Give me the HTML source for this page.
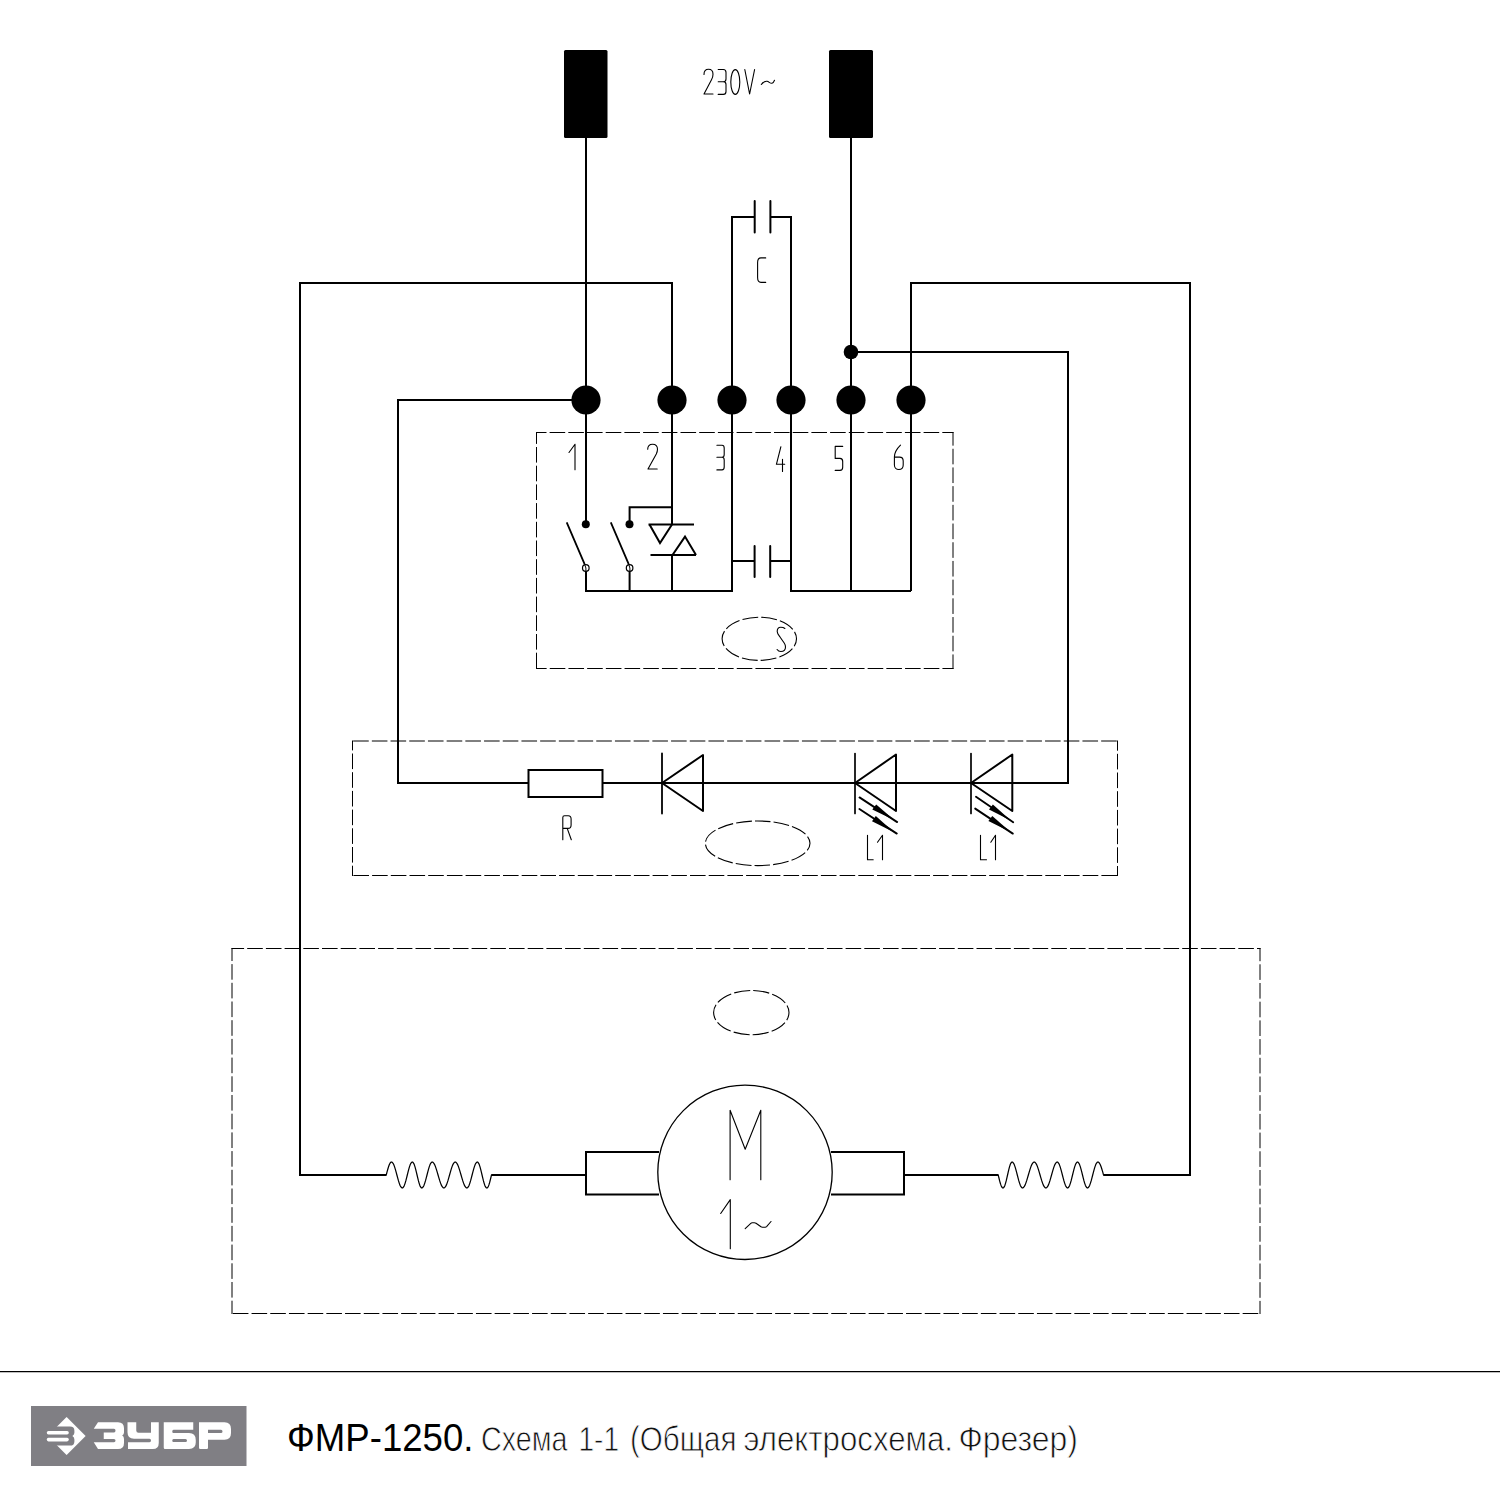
<!DOCTYPE html>
<html><head><meta charset="utf-8">
<style>
html,body{margin:0;padding:0;background:#fff;}
body{width:1500px;height:1500px;overflow:hidden;position:relative;}
svg{position:absolute;left:0;top:0;}
</style></head>
<body>
<svg width="1500" height="1500" viewBox="0 0 1500 1500">
<!-- WIRES -->
<g fill="none" stroke="#000" stroke-width="2" stroke-linecap="butt" stroke-linejoin="miter">
  <path d="M586 138V524"/>
  <path d="M851 138V591"/>
  <path d="M672 524V283H300V1175H386.6"/>
  <path d="M911 591V283H1190V1175H1103.2"/>
  <path d="M851 352H1068V783H1012"/>
  <path d="M586 400H398V783H528"/>
  <path d="M603 783H1012"/>
  <path d="M754.7 217H732V591H586V571.3"/>
  <path d="M770.4 217H791V591H911"/>
  <path d="M732 561H754.6M770.2 561H791"/>
  <path d="M629.6 524V507.2H672"/>
  <path d="M629.6 571.3V591"/>
  <path d="M672 555V591"/>
  <path d="M491.2 1175H586"/>
  <path d="M904 1175H998.5"/>
</g>
<!-- terminals -->
<rect x="564" y="50" width="43.5" height="88" rx="1.5" fill="#000"/>
<rect x="829" y="50" width="44" height="88" rx="1.5" fill="#000"/>
<!-- dots -->
<g fill="#000">
  <circle cx="586" cy="400" r="14.6"/>
  <circle cx="672" cy="400" r="14.6"/>
  <circle cx="732" cy="400" r="14.6"/>
  <circle cx="791" cy="400" r="14.6"/>
  <circle cx="851" cy="400" r="14.6"/>
  <circle cx="911" cy="400" r="14.6"/>
  <circle cx="851" cy="352" r="7.3"/>
  <circle cx="585.8" cy="524.2" r="4"/>
  <circle cx="629.5" cy="524.2" r="4"/>
</g>
<!-- capacitor plates -->
<g stroke="#000" stroke-width="2" fill="none" stroke-linecap="round">
  <path d="M754.7 201V232.5M770.4 201V232.5"/>
  <path d="M754.6 546V577M770.2 546V577"/>
</g>
<!-- switches -->
<g stroke="#000" fill="none">
  <path d="M566.7 522.3L584.6 564.2M610.8 522.3L628.7 564.2" stroke-width="1.8"/>
  <path d="M584.6 564.2L585.9 568V571.4M628.7 564.2L629.9 568V571.4" stroke-width="1"/>
  <circle cx="585.8" cy="568" r="3.3" stroke-width="1.2"/>
  <circle cx="629.6" cy="568" r="3.3" stroke-width="1.2"/>
</g>
<!-- triac -->
<g stroke="#000" stroke-width="2" fill="none" stroke-linejoin="miter">
  <path d="M648.5 524.5H694"/>
  <path d="M649.5 524.5L660 543L672 524.5"/>
  <path d="M650.5 555H696"/>
  <path d="M672.5 555L685 536.6L696 555"/>
</g>
<!-- resistor -->
<rect x="528.5" y="770" width="74" height="27" fill="none" stroke="#000" stroke-width="2"/>
<!-- diodes / LEDs -->
<g stroke="#000" fill="none" stroke-width="2" stroke-linejoin="round" stroke-linecap="round">
  <path d="M662 753.5V813.5" stroke-width="1.8"/>
  <path d="M703 755V811L662 783Z"/>
  <path d="M855 753.5V813.5" stroke-width="1.7"/>
  <path d="M896 754.5V811L855 783Z"/>
  <path d="M971 753.5V813.5" stroke-width="1.7"/>
  <path d="M1012.3 754.5V811L971 783Z"/>
</g>
<!-- LED arrows -->
<g id="arrows">
  <g stroke="#000" stroke-width="1.9" stroke-linecap="round" fill="none">
    <path d="M859.5 797.4L897.2 822.1M859.4 809L896.8 833.6"/>
    <path d="M976 796.8L1013.2 822.2M975.2 808.6L1012.8 833.6"/>
  </g>
  <g fill="#000">
    <path d="M872.3 809.5L876.2 804.4L894.5 820.3Z"/>
    <path d="M872 821.2L875.8 816.1L894 832.2Z"/>
    <path d="M989 809.5L992.9 804.4L1010.8 820.4Z"/>
    <path d="M988.4 821.1L992.3 816L1010.5 832.1Z"/>
  </g>
</g>
<!-- coils -->
<g stroke="#000" stroke-width="1.25" fill="none" stroke-linejoin="round">
  <path d="M386.30 1174.80L386.67 1173.37L387.04 1171.95L387.41 1170.57L387.79 1169.25L388.16 1167.99L388.53 1166.82L388.90 1165.75L389.27 1164.79L389.64 1163.96L390.01 1163.27L390.39 1162.72L390.76 1162.32L391.13 1162.08L391.50 1162.00L392.27 1162.33L393.04 1163.29L393.81 1164.84L394.59 1166.89L395.36 1169.36L396.13 1172.11L396.90 1175.00L397.67 1177.89L398.44 1180.64L399.21 1183.11L399.99 1185.16L400.76 1186.71L401.53 1187.67L402.30 1188.00L403.01 1187.67L403.73 1186.71L404.44 1185.16L405.16 1183.11L405.87 1180.64L406.59 1177.89L407.30 1175.00L408.01 1172.11L408.73 1169.36L409.44 1166.89L410.16 1164.84L410.87 1163.29L411.59 1162.33L412.30 1162.00L412.98 1162.33L413.66 1163.29L414.34 1164.84L415.01 1166.89L415.69 1169.36L416.37 1172.11L417.05 1175.00L417.73 1177.89L418.41 1180.64L419.09 1183.11L419.76 1185.16L420.44 1186.71L421.12 1187.67L421.80 1188.00L422.54 1187.67L423.29 1186.71L424.03 1185.16L424.77 1183.11L425.51 1180.64L426.26 1177.89L427.00 1175.00L427.74 1172.11L428.49 1169.36L429.23 1166.89L429.97 1164.84L430.71 1163.29L431.46 1162.33L432.20 1162.00L433.04 1162.33L433.87 1163.29L434.71 1164.84L435.54 1166.89L436.38 1169.36L437.21 1172.11L438.05 1175.00L438.89 1177.89L439.72 1180.64L440.56 1183.11L441.39 1185.16L442.23 1186.71L443.06 1187.67L443.90 1188.00L444.71 1187.67L445.51 1186.71L446.32 1185.16L447.13 1183.11L447.94 1180.64L448.74 1177.89L449.55 1175.00L450.36 1172.11L451.16 1169.36L451.97 1166.89L452.78 1164.84L453.59 1163.29L454.39 1162.33L455.20 1162.00L456.04 1162.33L456.87 1163.29L457.71 1164.84L458.54 1166.89L459.38 1169.36L460.21 1172.11L461.05 1175.00L461.89 1177.89L462.72 1180.64L463.56 1183.11L464.39 1185.16L465.23 1186.71L466.06 1187.67L466.90 1188.00L467.64 1187.67L468.39 1186.71L469.13 1185.16L469.87 1183.11L470.61 1180.64L471.36 1177.89L472.10 1175.00L472.84 1172.11L473.59 1169.36L474.33 1166.89L475.07 1164.84L475.81 1163.29L476.56 1162.33L477.30 1162.00L477.98 1162.33L478.66 1163.29L479.34 1164.84L480.01 1166.89L480.69 1169.36L481.37 1172.11L482.05 1175.00L482.73 1177.89L483.41 1180.64L484.09 1183.11L484.76 1185.16L485.44 1186.71L486.12 1187.67L486.80 1188.00L487.14 1187.92L487.47 1187.67L487.81 1187.26L488.14 1186.69L488.48 1185.98L488.81 1185.12L489.15 1184.13L489.49 1183.03L489.82 1181.82L490.16 1180.53L490.49 1179.16L490.83 1177.74L491.16 1176.28L491.50 1174.80"/>
  <path d="M998.20 1174.80L998.54 1176.28L998.89 1177.74L999.23 1179.16L999.57 1180.53L999.91 1181.82L1000.26 1183.03L1000.60 1184.13L1000.94 1185.12L1001.29 1185.98L1001.63 1186.69L1001.97 1187.26L1002.31 1187.67L1002.66 1187.92L1003.00 1188.00L1003.65 1187.67L1004.30 1186.71L1004.95 1185.16L1005.60 1183.11L1006.25 1180.64L1006.90 1177.89L1007.55 1175.00L1008.20 1172.11L1008.85 1169.36L1009.50 1166.89L1010.15 1164.84L1010.80 1163.29L1011.45 1162.33L1012.10 1162.00L1012.84 1162.33L1013.59 1163.29L1014.33 1164.84L1015.07 1166.89L1015.81 1169.36L1016.56 1172.11L1017.30 1175.00L1018.04 1177.89L1018.79 1180.64L1019.53 1183.11L1020.27 1185.16L1021.01 1186.71L1021.76 1187.67L1022.50 1188.00L1023.34 1187.67L1024.17 1186.71L1025.01 1185.16L1025.84 1183.11L1026.68 1180.64L1027.51 1177.89L1028.35 1175.00L1029.19 1172.11L1030.02 1169.36L1030.86 1166.89L1031.69 1164.84L1032.53 1163.29L1033.36 1162.33L1034.20 1162.00L1035.04 1162.33L1035.87 1163.29L1036.71 1164.84L1037.54 1166.89L1038.38 1169.36L1039.21 1172.11L1040.05 1175.00L1040.89 1177.89L1041.72 1180.64L1042.56 1183.11L1043.39 1185.16L1044.23 1186.71L1045.06 1187.67L1045.90 1188.00L1046.71 1187.67L1047.51 1186.71L1048.32 1185.16L1049.13 1183.11L1049.94 1180.64L1050.74 1177.89L1051.55 1175.00L1052.36 1172.11L1053.16 1169.36L1053.97 1166.89L1054.78 1164.84L1055.59 1163.29L1056.39 1162.33L1057.20 1162.00L1057.94 1162.33L1058.69 1163.29L1059.43 1164.84L1060.17 1166.89L1060.91 1169.36L1061.66 1172.11L1062.40 1175.00L1063.14 1177.89L1063.89 1180.64L1064.63 1183.11L1065.37 1185.16L1066.11 1186.71L1066.86 1187.67L1067.60 1188.00L1068.31 1187.67L1069.01 1186.71L1069.72 1185.16L1070.43 1183.11L1071.14 1180.64L1071.84 1177.89L1072.55 1175.00L1073.26 1172.11L1073.96 1169.36L1074.67 1166.89L1075.38 1164.84L1076.09 1163.29L1076.79 1162.33L1077.50 1162.00L1078.21 1162.33L1078.93 1163.29L1079.64 1164.84L1080.36 1166.89L1081.07 1169.36L1081.79 1172.11L1082.50 1175.00L1083.21 1177.89L1083.93 1180.64L1084.64 1183.11L1085.36 1185.16L1086.07 1186.71L1086.79 1187.67L1087.50 1188.00L1088.24 1187.67L1088.99 1186.71L1089.73 1185.16L1090.47 1183.11L1091.21 1180.64L1091.96 1177.89L1092.70 1175.00L1093.44 1172.11L1094.19 1169.36L1094.93 1166.89L1095.67 1164.84L1096.41 1163.29L1097.16 1162.33L1097.90 1162.00L1098.30 1162.08L1098.70 1162.32L1099.10 1162.72L1099.50 1163.27L1099.90 1163.96L1100.30 1164.79L1100.70 1165.75L1101.10 1166.82L1101.50 1167.99L1101.90 1169.25L1102.30 1170.57L1102.70 1171.95L1103.10 1173.37L1103.50 1174.80"/>
</g>
<!-- motor -->
<g stroke="#000" fill="none">
  <circle cx="745" cy="1172.3" r="87.2" stroke-width="1.3"/>
  <path d="M659 1152H586V1194.5H659" stroke-width="2"/>
  <path d="M831 1152H904V1194.5H831" stroke-width="2"/>
</g>
<!-- dashed boxes -->
<g fill="none" stroke="#000" stroke-width="1" stroke-dasharray="15.6 3.1">
  <path d="M536.0 432.5L953.5 432.5" stroke-dashoffset="5.10"/>
  <path d="M953 432.0L953 669.0" stroke-dashoffset="1.95"/>
  <path d="M536.0 668.5L953.5 668.5" stroke-dashoffset="4.95"/>
  <path d="M536.5 432.0L536.5 669.0" stroke-dashoffset="3.70"/>
  <path d="M352.0 741L1118.0 741" stroke-dashoffset="17.55"/>
  <path d="M1117.5 740.5L1117.5 876.0" stroke-dashoffset="5.40"/>
  <path d="M352.0 875.5L1118.0 875.5" stroke-dashoffset="17.30"/>
  <path d="M352.5 740.5L352.5 876.0" stroke-dashoffset="5.70"/>
  <path d="M231.5 948.5L1260.5 948.5" stroke-dashoffset="3.00"/>
  <path d="M1260 948.0L1260 1314.0" stroke-dashoffset="2.40"/>
  <path d="M231.5 1313.5L1260.5 1313.5" stroke-dashoffset="17.35"/>
  <path d="M232 948.0L232 1314.0" stroke-dashoffset="2.60"/>
</g>
<!-- dashed ellipses -->
<g fill="none" stroke="#000" stroke-width="1.1">
  <ellipse cx="759.3" cy="638.8" rx="37.2" ry="21.6" stroke-dasharray="15.699 3.1" stroke-dashoffset="7.850"/>
  <ellipse cx="757.7" cy="843.3" rx="52.3" ry="22.3" stroke-dasharray="15.664 3.1" stroke-dashoffset="7.832"/>
  <ellipse cx="751.3" cy="1012.6" rx="37.7" ry="22.1" stroke-dasharray="16.008 3.1" stroke-dashoffset="8.004"/>
</g>
<!-- technical labels -->
<g fill="none" stroke="#000" stroke-width="1.1" stroke-linecap="round" stroke-linejoin="round">
  <!-- 230V~ -->
  <path d="M704 74.5C704 71 706 69.3 708.5 69.3C711 69.3 713 71 713 74.3C713 76.5 712.4 78.3 711.5 79.8L704 94H713"/>
  <path d="M718.2 69.5H723.3Q726 69.5 726 72.5V79Q726 81.8 723.3 81.8H718.2M723.3 81.8Q726 81.8 726 84.5V91.4Q726 94.4 723.3 94.4H718.2"/>
  <ellipse cx="735.3" cy="82" rx="4.5" ry="12.4"/>
  <path d="M744.8 69.5L749.6 94L754.6 69.5"/>
  <path d="M761.3 84.5C763.3 82 765 81 767 81.3C769 81.6 770 83.6 772 83.3C773 83.1 773.8 82 774.5 80.3"/>
  <!-- C -->
  <path d="M765.7 257.9H761Q757.6 257.9 757.6 262.5V277.5Q757.6 282.4 761 282.4H765.7"/>
  <!-- 1..6 -->
  <path d="M569 452.5L575 444.3V469.8"/>
  <path d="M647.7 449.3C647.7 446 650 444.2 652.6 444.2C655.3 444.2 657.5 446 657.5 449.3C657.5 451 657 452.5 656.3 454L648 469H657.2"/>
  <path d="M716.9 445.2H722Q724.2 445.2 724.2 448V454.5Q724.2 457.3 722 457.3H716.9M722 457.3Q724.2 457.3 724.2 460V467Q724.2 469.9 722 469.9H716.9"/>
  <path d="M780.9 446.7L776.4 464.3H784.7M782.5 459.2V471.5"/>
  <path d="M842.7 446.4H835.2V458.4H840Q842.7 458.4 842.7 461.5V467.3Q842.7 470.4 840 470.4H835.2"/>
  <path d="M900.5 445.1C897 448.5 894.4 451.5 894.4 457V465C894.4 467.8 896.5 469.5 898.8 469.5C901.2 469.5 903.2 467.8 903.2 465V461C903.2 458.5 901.5 457.1 899.5 457.1H894.4"/>
  <!-- S -->
  <path d="M784.9 628.5C783.8 627.5 782.3 627.2 780.7 627.2C778.5 627.2 777.2 629 777.2 631.5C777.2 633.5 778.5 635 780 637L784.2 643C785.2 644.5 785.5 645.5 785.5 647C785.5 650 783.3 651.5 780.8 651.5C779.2 651.5 778 650.8 777.1 649.5"/>
  <!-- R -->
  <path d="M562.8 839.8V817.5Q562.8 815.7 564.5 815.7H568.3Q571.1 815.7 571.1 819V825Q571.1 828.4 568 828.4H562.8M567.3 828.6L571.3 839.8"/>
  <!-- L1 L1 -->
  <path d="M867.5 835.3V859.7H873.2M877.5 842.2L882.5 835.3V859.7"/>
  <path d="M980.5 835.3V859.7H986.5M990.8 842.2L995.5 835.3V859.7"/>
  <!-- motor M 1~ -->
  <path d="M730.1 1179.7V1110.3L745.2 1149.2L760.8 1110.3V1179.7"/>
  <path d="M720.7 1213.5L730.3 1199.6V1248.8"/>
  <path d="M745.2 1228.6L750.8 1223.3Q751.4 1222.8 752.2 1222.8H754.4Q755.2 1222.8 756 1223.3L761 1226.8Q761.6 1227.2 762.4 1227.2H765.2Q766 1227.2 766.6 1226.6L771 1221.5"/>
</g>
<!-- footer -->
<path d="M0 1371.6H1500" stroke="#000" stroke-width="1.3"/>
<rect x="31" y="1406" width="215.5" height="60" fill="#807f84"/>
<g fill="#fff">
  <path d="M66.6 1417L85.6 1436L66.6 1455L56.8 1445.2V1426.8Z"/>
  <path d="M56 1426.6H70Q74.4 1426.6 74.4 1430.8V1432.8Q74.4 1434.8 72.4 1436Q74.4 1437.2 74.4 1439.4V1441.4Q74.4 1445.6 70 1445.6H56Z" fill="#807f84"/>
  <path d="M48.4 1431H67.1Q68.8 1431 68.8 1432.7Q68.8 1434.4 67.1 1434.4H48.4Q46.8 1434.4 46.8 1432.7Q46.8 1431 48.4 1431Z"/>
  <path d="M48.4 1437.8H67.1Q68.8 1437.8 68.8 1439.6Q68.8 1441.4 67.1 1441.4H48.4Q46.8 1441.4 46.8 1439.6Q46.8 1437.8 48.4 1437.8Z"/>
  <path d="M98 1422.25H118Q124 1422.25 124 1428.25V1432.5Q124 1434.6 122.2 1435.6Q124 1436.6 124 1439V1443Q124 1449 118 1449H98L93.75 1442.25H114Q115.5 1442.25 115.5 1440.6Q115.5 1439 114 1439H103.75V1432.5H114Q115.5 1432.5 115.5 1430.6Q115.5 1428.75 114 1428.75H93.75Z"/>
  <path d="M127.5 1422.25H136.25V1430.5Q136.25 1432.75 138.5 1432.75H151V1422.25H158.75V1443Q158.75 1449 152.75 1449H128V1442.25H149.5Q151 1442.25 151 1440.5Q151 1438.75 149.5 1438.75H134Q127.5 1438.75 127.5 1432.25Z"/>
  <path fill-rule="evenodd" d="M163.75 1422.25H193.25V1429.75H173.5Q172.25 1429.75 172.25 1431.4Q172.25 1433 173.5 1433H189Q195.75 1433 195.75 1440V1442.5Q195.75 1449 189 1449H165Q163.75 1449 163.75 1447.5ZM173.5 1439H185.5Q187 1439 187 1440.5Q187 1442 185.5 1442H173.5Q172.25 1442 172.25 1440.5Q172.25 1439 173.5 1439Z"/>
  <path fill-rule="evenodd" d="M199 1422.25H224.5Q231 1422.25 231 1429V1433Q231 1439.75 224.5 1439.75H208V1447.8Q208 1449 206.8 1449H200.2Q199 1449 199 1447.8ZM208 1429.75H221Q222.5 1429.75 222.5 1431.4Q222.5 1433 221 1433H208Z"/>
</g>
<g id="title" font-family="Liberation Sans">
  <text x="287.00" y="1450.7" font-size="38.5" fill="#000" textLength="186.50" lengthAdjust="spacingAndGlyphs">ФМР-1250.</text>
  <text x="481.00" y="1450.8" font-size="35.5" fill="#111" stroke="#fff" stroke-width="0.8" textLength="86.50" lengthAdjust="spacingAndGlyphs">Схема</text>
  <text x="578.50" y="1450.8" font-size="35.5" fill="#111" stroke="#fff" stroke-width="0.8" textLength="40.50" lengthAdjust="spacingAndGlyphs">1-1</text>
  <text x="630.00" y="1450.8" font-size="35.5" fill="#111" stroke="#fff" stroke-width="0.8" textLength="106.50" lengthAdjust="spacingAndGlyphs">(Общая</text>
  <text x="743.50" y="1450.8" font-size="35.5" fill="#111" stroke="#fff" stroke-width="0.8" textLength="209.50" lengthAdjust="spacingAndGlyphs">электросхема.</text>
  <text x="958.50" y="1450.8" font-size="35.5" fill="#111" stroke="#fff" stroke-width="0.8" textLength="119.50" lengthAdjust="spacingAndGlyphs">Фрезер)</text>
</g>ml>
